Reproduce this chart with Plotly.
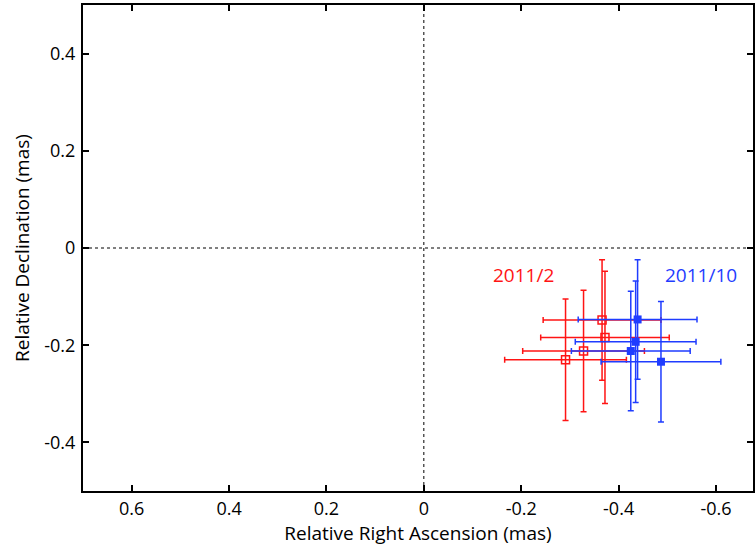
import plotly.graph_objects as go

# Epoch 2011/2 (red, open squares)
ra_feb = [-0.366, -0.372, -0.328, -0.291]
dec_feb = [-0.148, -0.184, -0.212, -0.230]
ra_err_feb = [0.121, 0.132, 0.125, 0.125]
dec_err_feb = [0.124, 0.136, 0.125, 0.125]

# Epoch 2011/10 (blue, filled squares)
ra_oct = [-0.439, -0.435, -0.425, -0.487]
dec_oct = [-0.147, -0.193, -0.212, -0.234]
ra_err_oct = [0.122, 0.124, 0.122, 0.123]
dec_err_oct = [0.123, 0.125, 0.123, 0.124]

x_ticks = [0.6, 0.4, 0.2, 0, -0.2, -0.4, -0.6]
x_tick_labels = ["0.6", "0.4", "0.2", "0", "-0.2", "-0.4", "-0.6"]
y_ticks = [0.4, 0.2, 0, -0.2, -0.4]
y_tick_labels = ["0.4", "0.2", "0", "-0.2", "-0.4"]

RED = "#ff1414"
BLUE = "#1f3cff"
FONT = "Open Sans, sans-serif"

fig = go.Figure()

fig.add_trace(go.Scatter(
    x=ra_feb, y=dec_feb, mode="markers",
    marker=dict(symbol="square-open", size=8, color=RED, line=dict(width=1.5, color=RED)),
    error_x=dict(type="data", array=ra_err_feb, color=RED, thickness=1.5, width=3),
    error_y=dict(type="data", array=dec_err_feb, color=RED, thickness=1.5, width=3),
    showlegend=False,
))
fig.add_trace(go.Scatter(
    x=ra_oct, y=dec_oct, mode="markers",
    marker=dict(symbol="square", size=8, color=BLUE),
    error_x=dict(type="data", array=ra_err_oct, color=BLUE, thickness=1.5, width=3),
    error_y=dict(type="data", array=dec_err_oct, color=BLUE, thickness=1.5, width=3),
    showlegend=False,
))

fig.add_annotation(x=-0.205, y=-0.056, text="2011/2", showarrow=False,
                   font=dict(family=FONT, size=19, color=RED))
fig.add_annotation(x=-0.570, y=-0.056, text="2011/10", showarrow=False,
                   font=dict(family=FONT, size=19, color=BLUE))

fig.add_shape(type="line", x0=0, x1=0, y0=-0.5, y1=0.5, xref="x", yref="y",
              line=dict(color="black", width=1, dash="3px,3px"), layer="below")
fig.add_shape(type="line", x0=0.7, x1=-0.7, y0=0, y1=0, xref="x", yref="y",
              line=dict(color="black", width=1, dash="3px,3px"), layer="below")

fig.update_layout(
    width=755, height=547,
    margin=dict(l=83, r=0, t=5, b=56),
    paper_bgcolor="white", plot_bgcolor="white",
    font=dict(family=FONT, size=18, color="black"),
    xaxis=dict(range=[0.70, -0.676], tickvals=x_ticks, ticktext=x_tick_labels,
               ticks="inside", ticklen=6, tickwidth=1.5, tickcolor="black",
               showline=True, linecolor="black", linewidth=2, mirror="ticks",
               showgrid=False, zeroline=False, tickfont=dict(size=18),
               title=dict(text="Relative Right Ascension (mas)", standoff=4,
                          font=dict(family=FONT, size=19))),
    yaxis=dict(range=[-0.5, 0.5], tickvals=y_ticks, ticktext=y_tick_labels,
               ticks="inside", ticklen=6, tickwidth=1.5, tickcolor="black",
               showline=True, linecolor="black", linewidth=2, mirror="ticks",
               showgrid=False, zeroline=False, tickfont=dict(size=18),
               ticklabelstandoff=2,
               title=dict(text="Relative Declination (mas)", standoff=10,
                          font=dict(family=FONT, size=19))),
)

fig.write_html("out.html")
